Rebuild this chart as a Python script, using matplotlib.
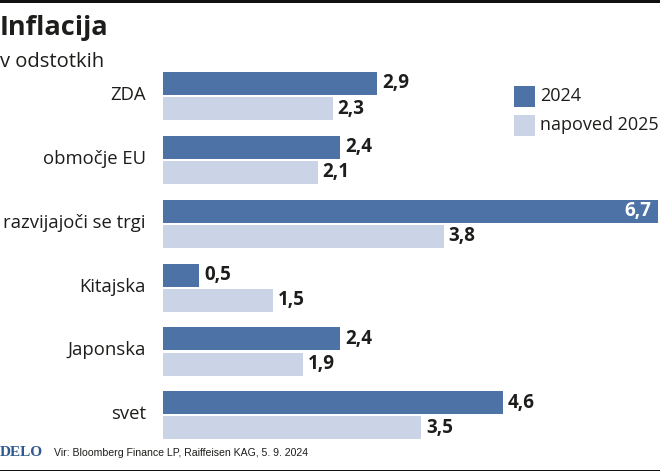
"""Inflacija: horizontal grouped bars, 2024 vs. napoved 2025."""

import matplotlib

matplotlib.use("Agg")
import matplotlib.pyplot as plt
import numpy as np
from matplotlib.patches import Rectangle
from matplotlib.transforms import ScaledTranslation

plt.rcParams["font.family"] = ["Open Sans", "DejaVu Sans"]

categories = ["ZDA", "območje EU", "razvijajoči se trgi", "Kitajska", "Japonska", "svet"]
values_2024 = [2.9, 2.4, 6.7, 0.5, 2.4, 4.6]
values_2025 = [2.3, 2.1, 3.8, 1.5, 1.9, 3.5]
series_names = ["2024", "napoved 2025"]

DARK = "#4c72a6"
LIGHT = "#cbd4e7"
INK = "#1d1d1b"
W, H = 660, 472


def fx(px):
    return px / W


def fy(py):
    return 1 - py / H


fig = plt.figure(figsize=(W / 100, H / 100), dpi=100)

# plot area in picture pixels: 162.5..658 across, 64..447 down
ax = fig.add_axes([fx(162.5), fy(447.3), fx(658 - 162.5), (447.3 - 64) / H])
y = np.arange(len(categories))
bar_h = 0.36
offset = 0.197
ax.barh(y - offset, values_2024, height=bar_h, color=DARK)
ax.barh(y + offset, values_2025, height=bar_h, color=LIGHT)
ax.set_xlim(0, 6.7)
ax.set_ylim(5.5, -0.5)
ax.set_yticks(y, categories, fontsize=13.3, color=INK)
ax.tick_params(axis="y", length=0, pad=12)
ax.set_xticks([])
for side in ax.spines.values():
    side.set_visible(False)

# labels sit on a shared baseline just below the middle of each row
shift = ScaledTranslation(0, -4.0 / 100, fig.dpi_scale_trans)
for label in ax.get_yticklabels():
    label.set_va("baseline")
    label.set_transform(label.get_transform() + shift)

for i, (a, b) in enumerate(zip(values_2024, values_2025)):
    if a > 6:
        ax.annotate(f"{a:.1f}".replace(".", ","), (a, i - offset), xytext=(-5, 0),
                    textcoords="offset points", ha="right", va="center",
                    fontsize=13.5, fontweight="bold", color="white")
    else:
        ax.annotate(f"{a:.1f}".replace(".", ","), (a, i - offset), xytext=(3.5, 0),
                    textcoords="offset points", ha="left", va="center",
                    fontsize=13.5, fontweight="bold", color=INK)
    ax.annotate(f"{b:.1f}".replace(".", ","), (b, i + offset), xytext=(3.5, 0),
                textcoords="offset points", ha="left", va="center",
                fontsize=13.5, fontweight="bold", color=INK)

# title block
fig.text(fx(0), fy(28), "Inflacija", fontsize=19.5, fontweight="bold", color=INK,
         ha="left", va="center")
fig.text(fx(0), fy(62), "v odstotkih", fontsize=14.5, color=INK, ha="left", va="center")

# legend
for py, color, name in zip([86, 115], [DARK, LIGHT], series_names):
    fig.add_artist(Rectangle((fx(514), fy(py + 20.5)), 21 / W, 20.5 / H,
                             transform=fig.transFigure, color=color, lw=0))
    fig.text(fx(540), fy(py + 10), name, fontsize=13, color=INK, ha="left", va="center")

# footer
fig.text(fx(0), fy(453), "DELO", fontsize=11, fontweight="bold", color="#2f5a8f",
         family="Liberation Serif", ha="left", va="center")
fig.text(fx(54), fy(453), "Vir: Bloomberg Finance LP, Raiffeisen KAG, 5. 9. 2024",
         fontsize=7.6, color=INK, family="Liberation Sans", ha="left", va="center")

# top and bottom rules
fig.add_artist(Rectangle((0, fy(3)), 1, 3 / H, transform=fig.transFigure, color="#111111", lw=0))
fig.add_artist(Rectangle((0, fy(471)), 1, 1.5 / H, transform=fig.transFigure, color="#111111", lw=0))

fig.savefig("out.png", dpi=100)
